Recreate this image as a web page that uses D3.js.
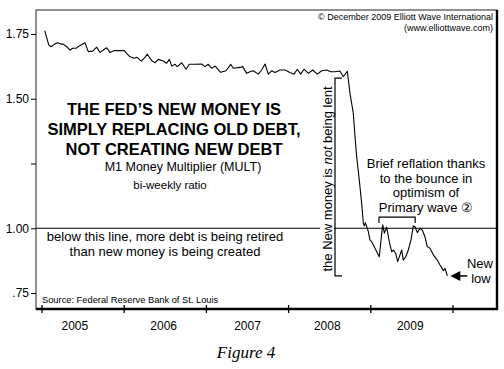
<!DOCTYPE html>
<html>
<head>
<meta charset="utf-8">
<script src="https://cdn.jsdelivr.net/npm/d3@7"></script>
<style>
  body { margin: 0; background: #fff; }
  text { font-family: "Liberation Sans", Arial, Helvetica, sans-serif; fill: #000; }
</style>
</head>
<body>
<div id="chart_area"></div>
<script>
// M1 money multiplier, bi-weekly (decimal year, ratio)
var dates = [
  2005.033, 2005.082, 2005.109, 2005.150, 2005.191, 2005.231, 2005.259, 2005.300,
  2005.341, 2005.373, 2005.414, 2005.454, 2005.523, 2005.563, 2005.617, 2005.665,
  2005.706, 2005.746, 2005.787, 2005.827, 2005.880, 2005.940, 2006.001, 2006.030,
  2006.071, 2006.123, 2006.156, 2006.208, 2006.253, 2006.281, 2006.335, 2006.375,
  2006.415, 2006.468, 2006.517, 2006.549, 2006.578, 2006.618, 2006.646, 2006.700,
  2006.752, 2006.792, 2006.861, 2006.943, 2006.983, 2007.023, 2007.064, 2007.105,
  2007.174, 2007.238, 2007.296, 2007.327, 2007.409, 2007.441, 2007.490, 2007.530,
  2007.570, 2007.631, 2007.672, 2007.713, 2007.753, 2007.794, 2007.835, 2007.895,
  2007.956, 2008.017, 2008.066, 2008.106, 2008.147, 2008.187, 2008.240, 2008.293,
  2008.349, 2008.403, 2008.464, 2008.512, 2008.564, 2008.625, 2008.665, 2008.714,
  2008.747, 2008.787, 2008.808, 2008.828, 2008.860, 2008.889, 2008.909, 2008.921,
  2008.933, 2008.950, 2008.970, 2008.990, 2009.011, 2009.051, 2009.103, 2009.133,
  2009.145, 2009.165, 2009.193, 2009.225, 2009.254, 2009.274, 2009.303, 2009.327,
  2009.355, 2009.376, 2009.395, 2009.425, 2009.456, 2009.489, 2009.517, 2009.538,
  2009.566, 2009.599, 2009.626, 2009.659, 2009.687, 2009.720, 2009.769, 2009.809,
  2009.842, 2009.862, 2009.882, 2009.903, 2009.931
];
var ratio = [
  1.763, 1.708, 1.701, 1.710, 1.716, 1.711, 1.711, 1.701,
  1.688, 1.695, 1.695, 1.704, 1.716, 1.682, 1.684, 1.699,
  1.679, 1.688, 1.697, 1.679, 1.686, 1.686, 1.686, 1.675,
  1.662, 1.656, 1.660, 1.645, 1.660, 1.672, 1.647, 1.639,
  1.652, 1.647, 1.637, 1.652, 1.626, 1.633, 1.624, 1.639,
  1.614, 1.633, 1.633, 1.634, 1.624, 1.633, 1.618, 1.626,
  1.602, 1.608, 1.633, 1.618, 1.621, 1.624, 1.598, 1.604,
  1.608, 1.595, 1.611, 1.634, 1.595, 1.608, 1.601, 1.611,
  1.611, 1.601, 1.595, 1.614, 1.595, 1.614, 1.598, 1.611,
  1.595, 1.608, 1.611, 1.604, 1.604, 1.607, 1.585, 1.606,
  1.521, 1.444, 1.353, 1.276, 1.186, 1.096, 1.019, 1.009,
  1.022, 1.006, 0.987, 0.955, 0.948, 0.923, 0.890, 0.981,
  1.013, 0.981, 1.004, 0.948, 0.909, 0.916, 0.903, 0.871,
  0.897, 0.916, 0.877, 0.890, 0.916, 0.955, 1.009, 1.006,
  0.983, 1.000, 0.993, 0.967, 0.929, 0.923, 0.893, 0.877,
  0.858, 0.848, 0.836, 0.845, 0.816
];
var yTicks = [0.75, 1.00, 1.25, 1.50, 1.75];
var yTickLabels = [".75", "1.00", "", "1.50", "1.75"];
var yearTicks = [2005, 2006, 2007, 2008, 2009, 2010];
var yearLabels = ["2005", "2006", "2007", "2008", "2009"];
var yearLabelPos = [2005.40, 2006.48, 2007.50, 2008.47, 2009.48];
var titleLines = ["THE FED\u2019S NEW MONEY IS", "SIMPLY REPLACING OLD DEBT,", "NOT CREATING NEW DEBT"];
var reflationLines = ["Brief reflation thanks", "to the bounce in", "optimism of", "Primary wave \u2461"];
var belowLines = ["below this line, more debt is being retired", "than new money is being created"];

var series = dates.map(function(d, i) { return {t: d, v: ratio[i]}; });

var width = 504, height = 369;
var box = {left: 36, right: 497, top: 10, bottom: 309};

var svg = d3.select("#chart_area").append("svg")
    .attr("width", width).attr("height", height);

var x = d3.scaleLinear().domain([2005, 2010]).range([42, 453]);
var y = d3.scaleLinear().domain([0.75, 1.75]).range([293, 34]);

// frame with heavier right/bottom edge
svg.append("rect")
    .attr("x", box.left).attr("y", box.top)
    .attr("width", box.right - box.left).attr("height", box.bottom - box.top)
    .attr("fill", "none").attr("stroke", "#222").attr("stroke-width", 1);
svg.append("path")
    .attr("d", "M" + (box.left) + "," + box.bottom + "H" + box.right + "V" + box.top)
    .attr("fill", "none").attr("stroke", "#000").attr("stroke-width", 2.4);

// y axis ticks + labels
var yAxis = d3.axisLeft(y).tickValues(yTicks).tickSize(5).tickPadding(2)
    .tickFormat(function(d, i) { return yTickLabels[i]; });
var gy = svg.append("g").attr("transform", "translate(" + box.left + ",0)").call(yAxis);
gy.select(".domain").remove();
gy.selectAll("text").attr("font-size", 12).attr("font-family", null);

// x axis: ticks crossing the bottom edge
var gx = svg.append("g").attr("transform", "translate(0," + box.bottom + ")");
gx.selectAll("line").data(yearTicks).enter().append("line")
    .attr("x1", function(d) { return x(d); }).attr("x2", function(d) { return x(d); })
    .attr("y1", -4).attr("y2", 4).attr("stroke", "#000").attr("stroke-width", 1.3);
gx.selectAll("text").data(yearLabels).enter().append("text")
    .attr("x", function(d, i) { return x(yearLabelPos[i]); })
    .attr("y", 21).attr("text-anchor", "middle").attr("font-size", 12)
    .text(function(d) { return d; });

// 1.00 reference line
svg.append("line")
    .attr("x1", box.left).attr("x2", box.right)
    .attr("y1", y(1)).attr("y2", y(1))
    .attr("stroke", "#000").attr("stroke-width", 1.2);

// the series
var line = d3.line().x(function(d) { return x(d.t); }).y(function(d) { return y(d.v); });
svg.append("path").datum(series)
    .attr("d", line).attr("fill", "none")
    .attr("stroke", "#000").attr("stroke-width", 1.1).attr("stroke-linejoin", "round");

// copyright
svg.append("text").attr("x", 493).attr("y", 20).attr("text-anchor", "end")
    .attr("font-size", 9).text("\u00A9 December 2009 Elliott Wave International");
svg.append("text").attr("x", 493).attr("y", 31).attr("text-anchor", "end")
    .attr("font-size", 9).text("(www.elliottwave.com)");

// title block
svg.selectAll(".title").data(titleLines).enter().append("text")
    .attr("class", "title")
    .attr("x", 174).attr("y", function(d, i) { return 115 + i * 20; })
    .attr("text-anchor", "middle").attr("font-size", 16.5).attr("font-weight", "bold")
    .text(function(d) { return d; });
svg.append("text").attr("x", 183).attr("y", 171).attr("text-anchor", "middle")
    .attr("font-size", 12.5).text("M1 Money Multiplier (MULT)");
svg.append("text").attr("x", 170).attr("y", 189).attr("text-anchor", "middle")
    .attr("font-size", 11.5).text("bi-weekly ratio");

// below-the-line note
svg.selectAll(".below").data(belowLines).enter().append("text")
    .attr("class", "below")
    .attr("x", 165).attr("y", function(d, i) { return 241 + i * 14.5; })
    .attr("text-anchor", "middle").attr("font-size", 13)
    .text(function(d) { return d; });

// vertical bracket: from the pre-drop level down to the new low
var lastV = ratio[ratio.length - 1];
var bx = 335;
svg.append("path")
    .attr("d", "M" + (bx + 7) + "," + y(1.58) + "H" + bx + "V" + y(lastV) + "H" + (bx + 7))
    .attr("fill", "none").attr("stroke", "#000").attr("stroke-width", 1.2);

// rotated note, with white backing that breaks the 1.00 line
var rot = svg.append("g").attr("transform", "translate(332," + 179 + ") rotate(-90)");
rot.append("rect").attr("x", -25).attr("y", -12).attr("width", 50).attr("height", 14).attr("fill", "#fff")
    .attr("transform", "translate(" + (179 - y(1)) + ",0)");
var rt = rot.append("text").attr("text-anchor", "middle").attr("font-size", 13);
rt.append("tspan").text("the New money is ");
rt.append("tspan").attr("font-style", "italic").text("not");
rt.append("tspan").text(" being lent");

// reflation note and bracket
svg.selectAll(".reflation").data(reflationLines).enter().append("text")
    .attr("class", "reflation")
    .attr("x", 426).attr("y", function(d, i) { return 168 + i * 14.5; })
    .attr("text-anchor", "middle").attr("font-size", 13)
    .text(function(d) { return d; });
svg.append("path")
    .attr("d", "M" + x(2009.10) + "," + (y(1.043) + 6) + "V" + y(1.043) + "H" + x(2009.54) + "V" + (y(1.043) + 6))
    .attr("fill", "none").attr("stroke", "#000").attr("stroke-width", 1.2);

// new low arrow
var ax = x(dates[dates.length - 1]) + 3, ay = y(lastV);
svg.append("path")
    .attr("d", "M" + ax + "," + ay + "l10,-5v10z").attr("fill", "#000");
svg.append("line").attr("x1", ax + 9).attr("x2", ax + 17).attr("y1", ay).attr("y2", ay)
    .attr("stroke", "#000").attr("stroke-width", 1.5);
svg.append("text").attr("x", 480).attr("y", 268).attr("text-anchor", "middle")
    .attr("font-size", 13).text("New");
svg.append("text").attr("x", 481).attr("y", 283).attr("text-anchor", "middle")
    .attr("font-size", 13).text("low");

// source
svg.append("text").attr("x", 42).attr("y", 303).attr("font-size", 9.3)
    .text("Source: Federal Reserve Bank of St. Louis");

// caption
svg.append("text").attr("x", 246).attr("y", 358).attr("text-anchor", "middle")
    .attr("font-size", 17).attr("font-style", "italic")
    .style("font-family", "'Liberation Serif', 'Times New Roman', serif")
    .text("Figure 4");
</script>
</body>
</html>
